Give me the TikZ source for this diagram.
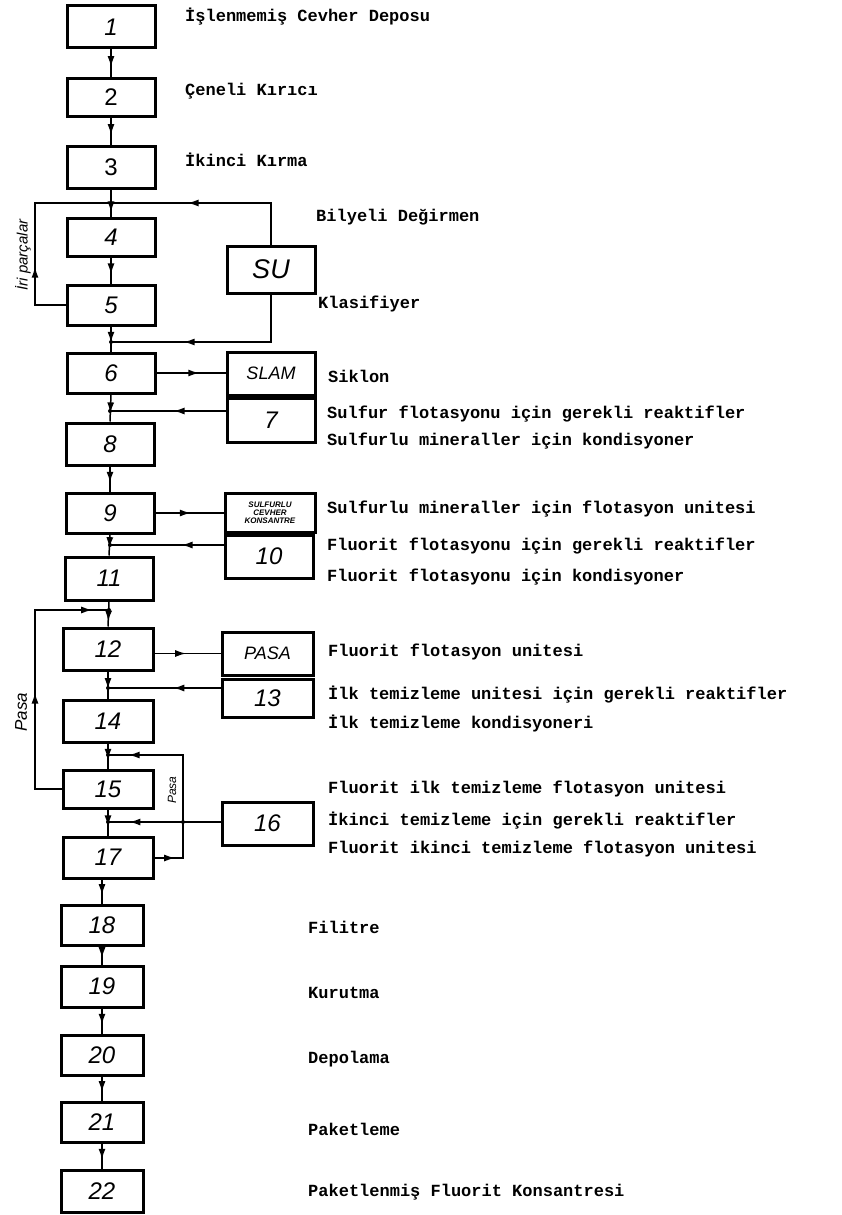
\documentclass[tikz,border=0pt]{standalone}
\usepackage{fontspec}
\usetikzlibrary{arrows.meta,decorations.markings,calc}
\newfontfamily\mytwfam{Liberation Mono}
\newfontfamily\myhandfam{Liberation Sans}
\newcommand\mytw{\mytwfam\bfseries\fontsize{17}{20}\selectfont}
\newcommand\mynum{\myhandfam\fontsize{24}{26}\selectfont}
\begin{document}
\begin{tikzpicture}[x=1pt,y=-1pt,
  tipA/.tip={Latex[length=11pt,width=7pt]},
  box/.style={draw, line width=3pt, minimum width=88pt, minimum height=40pt, inner sep=0pt, font=\mynum\itshape},
  smallbox/.style={box, minimum width=82pt},
  conn/.style={line width=1.5pt},
  lbl/.style={anchor=west, inner sep=0pt, font=\mytw, text height=11pt, text depth=4pt},
  rlbl/.style={rotate=90, inner sep=0pt, font=\myhandfam\itshape},
  marr/.style={postaction=decorate, decoration={markings, mark=at position #1 with {\arrow{tipA}}}},
  marrr/.style 2 args={postaction=decorate, decoration={markings, mark=at position #1 with {\arrow{tipA}}, mark=at position #2 with {\arrow{tipA}}}},
]
\useasboundingbox (0,0) rectangle (842,1215);

% main column
\node[box, minimum height=42pt] (b1) at (111,27) {1};
\node[box, minimum height=38pt, font=\mynum] (b2) at (111,97) {2};
\node[box, minimum height=42pt, font=\mynum] (b3) at (111,167) {3};
\node[box, minimum height=38pt] (b4) at (111,237) {4};
\node[box, minimum height=40pt] (b5) at (111,305) {5};
\node[box, minimum height=40pt] (b6) at (111,373) {6};
\node[box, minimum height=42pt] (b8) at (110,444) {8};
\node[box, minimum height=40pt] (b9) at (110,513) {9};
\node[box, minimum height=43pt] (b11) at (109,578.5) {11};
\node[box, minimum height=42pt, minimum width=90pt] (b12) at (108,649) {12};
\node[box, minimum height=42pt, minimum width=90pt] (b14) at (108,721) {14};
\node[box, minimum height=38pt, minimum width=90pt] (b15) at (108,789) {15};
\node[box, minimum height=41pt, minimum width=90pt] (b17) at (108,857.5) {17};
\node[smallbox, minimum height=40pt] (b18) at (102,925) {18};
\node[smallbox, minimum height=41pt] (b19) at (102,986.5) {19};
\node[smallbox, minimum height=40pt] (b20) at (102,1055) {20};
\node[smallbox, minimum height=40pt] (b21) at (102,1122) {21};
\node[smallbox, minimum height=42pt] (b22) at (102,1191) {22};

% side column
\node[box, minimum height=47pt, font=\myhandfam\itshape\fontsize{27}{29}\selectfont] (bSU) at (271,269.5) {SU};
\node[box, minimum height=43pt, font=\myhandfam\itshape\fontsize{18}{20}\selectfont] (bSLAM) at (271,373.5) {SLAM};
\node[box, minimum height=44pt] (b7) at (271,420) {7};
\node[box, minimum height=39pt, minimum width=90pt, align=center,
      font=\myhandfam\bfseries\itshape\fontsize{8}{8}\selectfont] (bSul) at (270,512.5) {SULFURLU\\CEVHER\\KONSANTRE};
\node[box, minimum height=43pt] (b10) at (269,556.5) {10};
\node[box, minimum height=43pt, minimum width=91pt, font=\myhandfam\itshape\fontsize{18}{20}\selectfont] (bPASA) at (267.5,653.5) {PASA};
\node[box, minimum height=38pt, minimum width=91pt] (b13) at (267.5,698) {13};
\node[box, minimum height=43pt, minimum width=91pt] (b16) at (267.5,823.5) {16};

% labels
\node[lbl] (t1) at (185,18) {İşlenmemiş Cevher Deposu};
\node[lbl] (t2) at (185,92) {Çeneli Kırıcı};
\node[lbl] (t3) at (185,163) {İkinci Kırma};
\node[lbl] (t4) at (316,218) {Bilyeli Değirmen};
\node[lbl] (t5) at (318,305) {Klasifiyer};
\node[lbl] (t6) at (328,379) {Siklon};
\node[lbl] (t7) at (327,415) {Sulfur flotasyonu için gerekli reaktifler};
\node[lbl] (t8) at (327,442) {Sulfurlu mineraller için kondisyoner};
\node[lbl] (t9) at (327,510) {Sulfurlu mineraller için flotasyon unitesi};
\node[lbl] (t10) at (327,547) {Fluorit flotasyonu için gerekli reaktifler};
\node[lbl] (t11) at (327,578) {Fluorit flotasyonu için kondisyoner};
\node[lbl] (t12) at (328,653) {Fluorit flotasyon unitesi};
\node[lbl] (t13) at (328,696) {İlk temizleme unitesi için gerekli reaktifler};
\node[lbl] (t14) at (328,725) {İlk temizleme kondisyoneri};
\node[lbl] (t15) at (328,790) {Fluorit ilk temizleme flotasyon unitesi};
\node[lbl] (t16) at (328,822) {İkinci temizleme için gerekli reaktifler};
\node[lbl] (t17) at (328,850) {Fluorit ikinci temizleme flotasyon unitesi};
\node[lbl] (t18) at (308,930) {Filitre};
\node[lbl] (t19) at (308,995) {Kurutma};
\node[lbl] (t20) at (308,1060) {Depolama};
\node[lbl] (t21) at (308,1132) {Paketleme};
\node[lbl] (t22) at (308,1193) {Paketlenmiş Fluorit Konsantresi};

\node[rlbl, font=\myhandfam\itshape\fontsize{15}{17}\selectfont] (r1) at (23,255) {İri parçalar};
\node[rlbl, font=\myhandfam\itshape\fontsize{17}{19}\selectfont] (r2) at (21,712) {Pasa};
\node[rlbl, font=\myhandfam\itshape\fontsize{12}{14}\selectfont] (r3) at (172,790) {Pasa};

% junctions and corners
\coordinate (jA) at (111,203);
\coordinate (jB) at (111,342);
\coordinate (j7) at (110,411);
\coordinate (j10) at (110,545);
\coordinate (jP) at (109,610);
\coordinate (j13) at (108,688);
\coordinate (jR) at (108,755);
\coordinate (j16) at (108,822);
\coordinate (cL1) at (35,203);
\coordinate (cL2) at (35,305);
\coordinate (cS1) at (271,203);
\coordinate (cS2) at (271,342);
\coordinate (cP1) at (35,610);
\coordinate (cP2) at (35,789);
\coordinate (cR1) at (183,858);
\coordinate (cR2) at (183,755);
\coordinate (cR3) at (183,822);

% main flow
\draw[conn, marr=0.65] (b1.south) -- (b2.north);
\draw[conn, marr=0.65] (b2.south) -- (b3.north);
\draw[conn, marr=0.85] (b3.south) -- (b4.north);
\draw[conn, marr=0.65] (b4.south) -- (b5.north);
\draw[conn, marr=0.65] (b5.south) -- (b6.north);
\draw[conn, marr=0.7] (b6.south) -- (b8.north);
\draw[conn, marr=0.65] (b8.south) -- (b9.north);
\draw[conn, marr=0.65] (b9.south) -- (b11.north);
\draw[conn, marr=0.8] (b11.south) -- (b12.north);
\draw[conn, marr=0.65] (b12.south) -- (b14.north);
\draw[conn, marr=0.65] (b14.south) -- (b15.north);
\draw[conn, marr=0.65] (b15.south) -- (b17.north);
\draw[conn, marr=0.65] (b17.south -| b18.north) -- (b18.north);
\draw[conn, marr=0.65] (b18.south) -- (b19.north);
\draw[conn, marr=0.65] (b19.south) -- (b20.north);
\draw[conn, marr=0.65] (b20.south) -- (b21.north);
\draw[conn, marr=0.65] (b21.south) -- (b22.north);

% loops and side streams
\draw[conn, marr=0.33] (b5.west) -- (cL2) -- (cL1) -- (jA);
\draw[conn, marr=0.62] (bSU.north) -- (cS1) -- (jA);
\draw[conn, marr=0.65] (bSU.south) -- (cS2) -- (jB);
\draw[conn, marr=0.62] (b6.east) -- (b6.east -| bSLAM.west);
\draw[conn, marr=0.45] (b7.west |- j7) -- (j7);
\draw[conn, marr=0.52] (b9.east) -- (b9.east -| bSul.west);
\draw[conn, marr=0.37] (b10.west |- j10) -- (j10);
\draw[conn, marr=0.48] (b12.east |- bPASA.west) -- (bPASA.west);
\draw[conn, marr=0.42] (b13.west |- j13) -- (j13);
\draw[conn, marrr={0.44}{0.94}] (b15.west) -- (cP2) -- (cP1) -- (jP);
\draw[conn, marrr={0.1}{0.9}] (b17.east |- cR1) -- (cR1) -- (cR2) -- (jR);
\draw[conn, marr=0.81] (b16.west |- j16) -- (j16);

\foreach \c in {jA,jB,j7,j10,jP,j13,jR,j16,cR3}
  \fill (\c) circle (2pt);
\end{tikzpicture}
\end{document}
